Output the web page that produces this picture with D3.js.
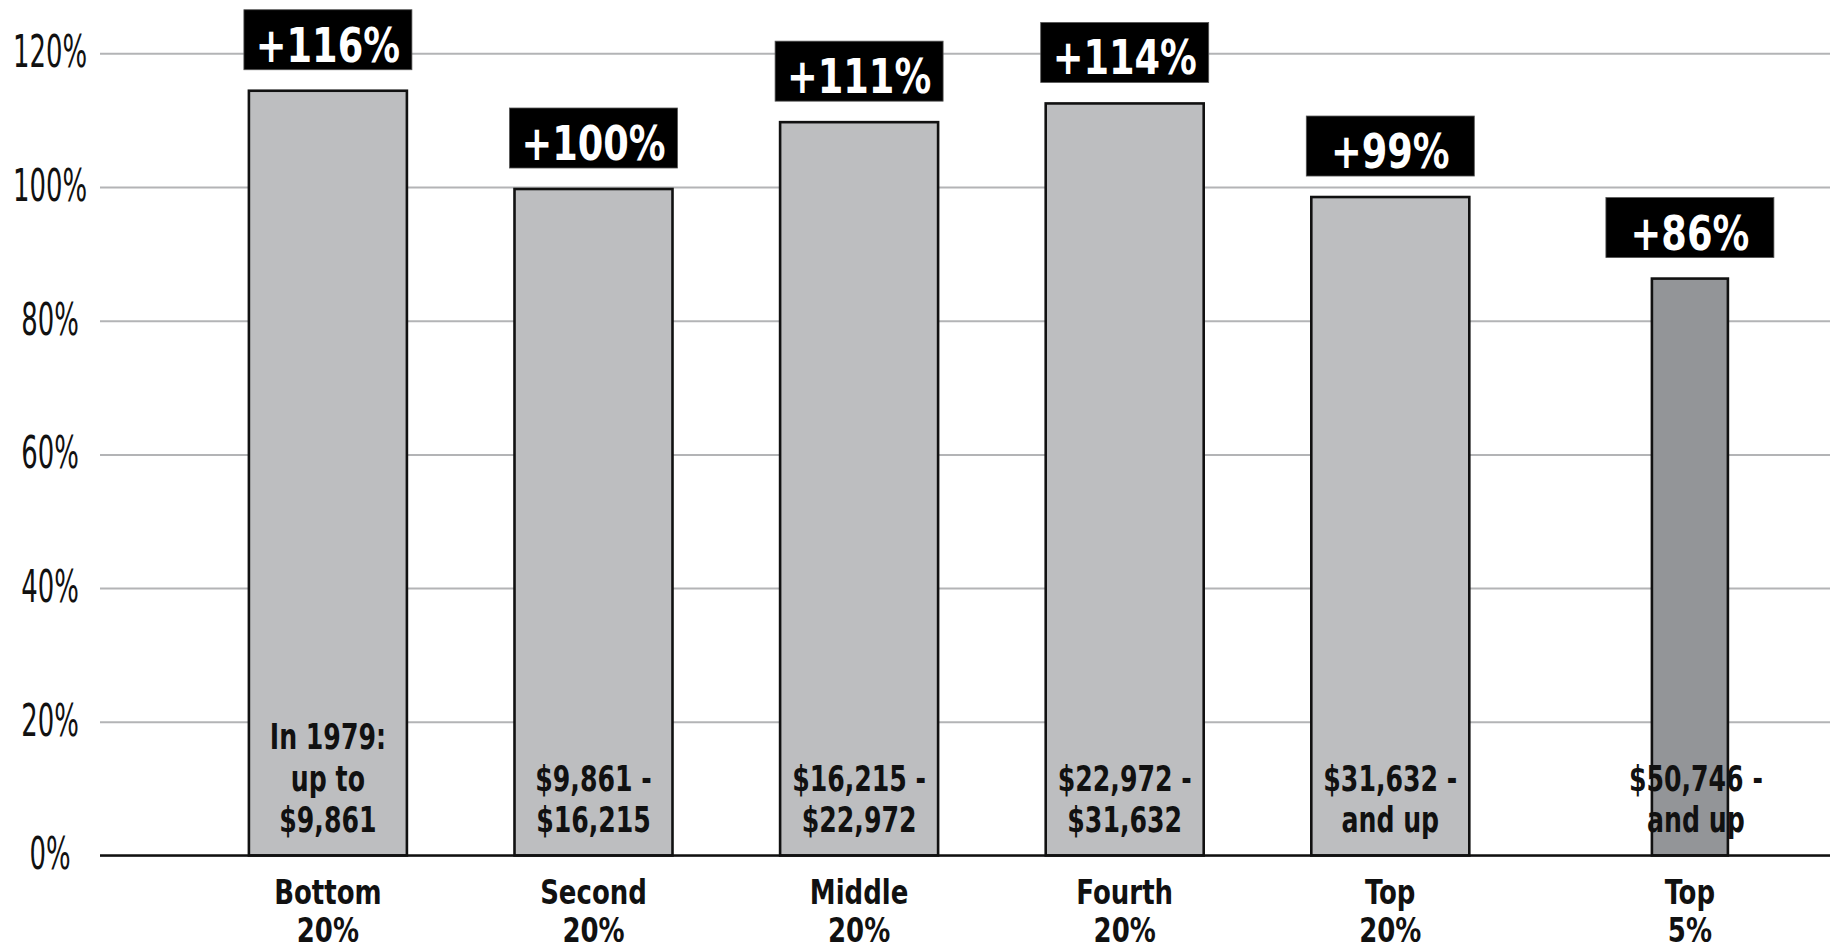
<!DOCTYPE html>
<html>
<head>
<meta charset="utf-8">
<script src="https://cdn.jsdelivr.net/npm/d3@7/dist/d3.min.js"></script>
<style>
  html, body { margin: 0; padding: 0; background: #fff; }
  svg { display: block; }
  .cond { font-family: "Liberation Sans Narrow", "DejaVu Sans Condensed", "Liberation Sans", sans-serif; }
</style>
</head>
<body>
<svg id="chart" width="1830" height="952"></svg>
<script>
// ---- data ----
const categories = ["Bottom 20%", "Second 20%", "Middle 20%", "Fourth 20%", "Top 20%", "Top 5%"];
const categoryLines = [["Bottom", "20%"], ["Second", "20%"], ["Middle", "20%"], ["Fourth", "20%"], ["Top", "20%"], ["Top", "5%"]];
const values = [114.4, 99.7, 109.7, 112.5, 98.5, 86.3];
const valueLabels = ["+116%", "+100%", "+111%", "+114%", "+99%", "+86%"];
const incomeRanges = [
  ["In 1979:", "up to", "$9,861"],
  ["$9,861 -", "$16,215"],
  ["$16,215 -", "$22,972"],
  ["$22,972 -", "$31,632"],
  ["$31,632 -", "and up"],
  ["$50,746 -", "and up"]
];
const yTicks = [0, 20, 40, 60, 80, 100, 120];
const highlighted = "Top 5%";

// ---- layout ----
const W = 1830, H = 952;
const plotLeft = 100;
const svg = d3.select("#chart");
svg.append("rect").attr("width", W).attr("height", H).attr("fill", "#fff");

const y = d3.scaleLinear().domain([0, 120]).range([855.5, 53.3]);
const x = d3.scaleBand().domain(categories).range([195.1, 1788.7]).paddingInner(0).paddingOuter(0);
const step = x.step();
const barW = 158, narrowW = 76, extraGap = 34;
const isHi = c => c === highlighted;
const barCenter = c => x(c) + step / 2 + (isHi(c) ? extraGap : 0);
const widthOf = c => isHi(c) ? narrowW : barW;

const data = categories.map((c, i) => ({
  cat: c, lines: categoryLines[i], value: values[i], label: valueLabels[i], range: incomeRanges[i]
}));

// gridlines via axis
const yAxis = d3.axisLeft(y).tickValues(yTicks).tickSize(-(W - plotLeft)).tickFormat(d => d + "%");
const gAxis = svg.append("g").attr("transform", `translate(${plotLeft},0)`).call(yAxis);
gAxis.select(".domain").remove();
gAxis.selectAll(".tick line").attr("stroke", "#b3b4b6").attr("stroke-width", 2);
gAxis.selectAll(".tick text")
  .attr("class", "cond")
  .attr("x", 0).attr("dy", null)
  .attr("text-anchor", "middle")
  .attr("dominant-baseline", "central")
  .attr("font-size", 45)
  .attr("fill", "#111")
  .attr("transform", `translate(${50 - plotLeft},-2) scale(0.64,1)`);

// bars
svg.append("g").selectAll("rect").data(data).join("rect")
  .attr("x", d => barCenter(d.cat) - widthOf(d.cat) / 2)
  .attr("width", d => widthOf(d.cat))
  .attr("y", d => y(d.value))
  .attr("height", d => y(0) - y(d.value))
  .attr("fill", d => isHi(d.cat) ? "#939598" : "#bdbec0")
  .attr("stroke", "#111")
  .attr("stroke-width", 2.6);

// baseline
svg.append("line")
  .attr("x1", plotLeft).attr("x2", W)
  .attr("y1", y(0)).attr("y2", y(0))
  .attr("stroke", "#111").attr("stroke-width", 2.6);

// value label boxes
const boxW = 168, boxH = 60, boxGap = 21;
const gBox = svg.append("g").selectAll("g").data(data).join("g")
  .attr("transform", d => `translate(${barCenter(d.cat)},${y(d.value) - boxGap})`);
gBox.append("rect")
  .attr("x", -boxW / 2).attr("y", -boxH)
  .attr("width", boxW).attr("height", boxH)
  .attr("fill", "#000").attr("stroke", "#555").attr("stroke-width", 0.8);
gBox.append("text")
  .attr("class", "cond")
  .attr("text-anchor", "middle")
  .attr("transform", "translate(0,-8) scale(0.85,1)")
  .attr("font-size", 48).attr("font-weight", "bold")
  .attr("fill", "#fff")
  .text(d => d.label);

// income range text inside bars (bottom aligned)
const lineH = 41.5, lastBase = 832;
const gRange = svg.append("g").selectAll("text").data(data).join("text")
  .attr("class", "cond")
  .attr("text-anchor", "middle")
  .attr("transform", d => `translate(${barCenter(d.cat) + (isHi(d.cat) ? 6 : 0)},${lastBase}) scale(0.8,1)`)
  .attr("font-size", 35).attr("font-weight", "bold")
  .attr("fill", "#111");
gRange.selectAll("tspan").data(d => d.range.map((t, i) => ({ t, i, n: d.range.length })))
  .join("tspan")
  .attr("x", 0)
  .attr("y", d => -(d.n - 1 - d.i) * lineH)
  .text(d => d.t);

// category labels
const gCat = svg.append("g").selectAll("text").data(data).join("text")
  .attr("class", "cond")
  .attr("text-anchor", "middle")
  .attr("transform", d => `translate(${barCenter(d.cat)},904) scale(0.85,1)`)
  .attr("font-size", 34).attr("font-weight", "bold")
  .attr("fill", "#111");
gCat.selectAll("tspan").data(d => d.lines.map((t, i) => ({ t, i })))
  .join("tspan")
  .attr("x", 0)
  .attr("y", d => d.i * 38)
  .text(d => d.t);
</script>
</body>
</html>
